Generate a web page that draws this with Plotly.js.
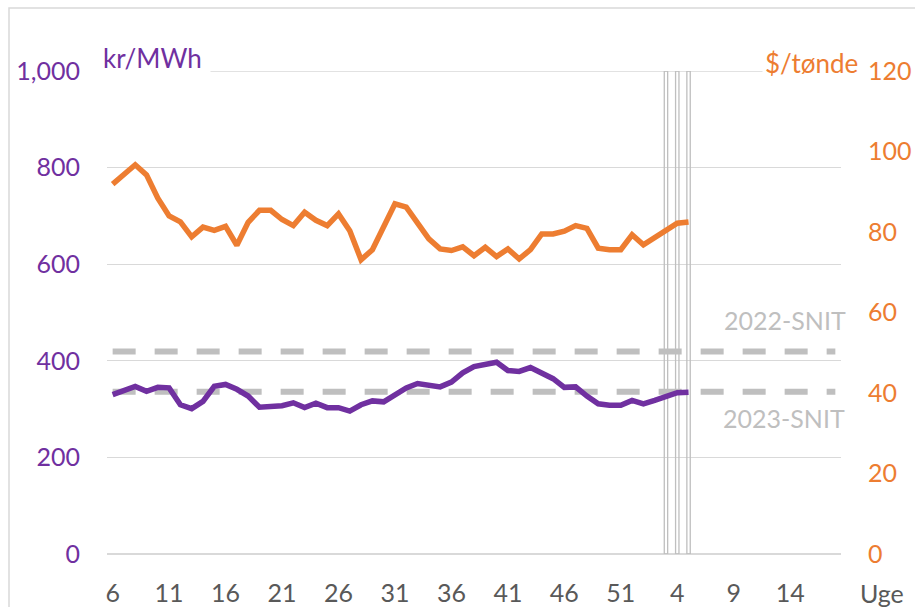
<!DOCTYPE html>
<html>
<head>
<meta charset="utf-8">
<script src="https://cdn.plot.ly/plotly-3.0.1.min.js"></script>
<style>
html,body{margin:0;padding:0;background:#fff;}
#chart{width:915px;height:607px;}
</style>
</head>
<body>
<div id="chart"></div>
<script>
// ---- data ----
const weeks2023 = [6,7,8,9,10,11,12,13,14,15,16,17,18,19,20,21,22,23,24,25,26,27,28,29,30,31,32,33,34,35,36,37,38,39,40,41,42,43,44,45,46,47,48,49,50,51,52];
const weeks2024 = [1,2,3,4,5,6,7,8,9,10,11,12,13,14,15,16,17,18];
const categories = weeks2023.map(w => '2023-' + w).concat(weeks2024.map(w => '2024-' + w));
const weekLabels = weeks2023.concat(weeks2024);

// Power price, kr/MWh (left axis)
const powerPrice = [330, 340, 347, 337, 345, 344, 309, 301, 316, 347, 351, 341, 327, 304, 305, 307, 313, 303, 312, 303,
                    303, 296, 309, 317, 315, 330, 344, 353, 349, 346, 356, 375, 388, 392, 397, 380, 378, 386, 373, 363,
                    345, 346, 327, 311, 308, 308, 318, 311, 318, 327, 334, 335];
// Oil price, $/tønde (right axis)
const oilPrice = [91.9, 94.5, 96.7, 94.2, 88.4, 84.0, 82.5, 78.8, 81.2, 80.4, 81.4, 76.7, 82.4, 85.4, 85.4, 83.1, 81.6, 84.9, 82.9, 81.6,
                  84.5, 80.3, 73.1, 75.6, 81.2, 87.0, 86.2, 82.1, 78.3, 75.8, 75.4, 76.3, 74.1, 76.2, 73.9, 75.8, 73.3, 75.6, 79.5, 79.5,
                  80.2, 81.6, 80.9, 76.0, 75.6, 75.6, 79.3, 76.8, 78.5, 80.2, 82.2, 82.5];
// Averages (kr/MWh)
const snit2022 = 419;
const snit2023 = 336;
// Highlighted weeks (vertical markers)
const highlightWeeks = ['2024-3', '2024-4', '2024-5'];
const highlightHeight = [1000, 1000, 1000];

const leftTicks = [0, 200, 400, 600, 800, 1000];
const rightTicks = [0, 20, 40, 60, 80, 100, 120];

// ---- style ----
const FONT = 'Lato, "Open Sans", sans-serif';
const PURPLE = '#7030A0';
const ORANGE = '#ED7D31';
const GRID = '#d9d9d9';
const SNITC = '#bfbfbf';

const tickIdx = categories.map((c, i) => i).filter(i => i % 5 === 0);

const traces = [
  {
    type: 'bar', x: highlightWeeks, y: highlightHeight, width: 0.3,
    marker: {color: 'rgba(255,255,255,0)', line: {color: SNITC, width: 1.3}},
    hoverinfo: 'skip', showlegend: false
  },
  {
    type: 'scatter', mode: 'lines', x: categories, y: categories.map(() => snit2022),
    line: {color: SNITC, width: 6, dash: '23px,19px'}, hoverinfo: 'skip', showlegend: false
  },
  {
    type: 'scatter', mode: 'lines', x: categories, y: categories.map(() => snit2023),
    line: {color: SNITC, width: 6, dash: '23px,19px'}, hoverinfo: 'skip', showlegend: false
  },
  {
    type: 'scatter', mode: 'lines', name: 'kr/MWh',
    x: categories.slice(0, powerPrice.length), y: powerPrice,
    line: {color: PURPLE, width: 5.5, shape: 'linear'}, showlegend: false
  },
  {
    type: 'scatter', mode: 'lines', name: '$/tønde', yaxis: 'y2',
    x: categories.slice(0, oilPrice.length), y: oilPrice,
    line: {color: ORANGE, width: 5.5}, showlegend: false
  }
];

// plot area in px: x 107..841, y 71..554
const L = 107, R = 841, T = 71, B = 554;
const px = v => (v - L) / (R - L);
const py = v => (B - v) / (B - T);

const layout = {
  width: 915, height: 607,
  margin: {l: L, r: 915 - R, t: T, b: 607 - B, pad: 0},
  paper_bgcolor: '#ffffff', plot_bgcolor: '#ffffff',
  font: {family: FONT, size: 25},
  showlegend: false,
  bargap: 0,
  xaxis: {
    type: 'category', categoryorder: 'array', categoryarray: categories,
    range: [-0.5, categories.length - 0.5],
    tickvals: tickIdx.map(i => categories[i]),
    ticktext: tickIdx.map(i => String(weekLabels[i])),
    showgrid: false, zeroline: false, showline: false, ticks: '',
    tickfont: {family: FONT, size: 25, color: '#595959'},
    ticklabelstandoff: 22, fixedrange: true
  },
  yaxis: {
    range: [0, 1000], tickvals: leftTicks, tickformat: ',',
    showgrid: true, gridcolor: GRID, gridwidth: 1.4,
    zeroline: true, zerolinecolor: GRID, zerolinewidth: 1.4,
    showline: false, ticks: '',
    tickfont: {family: FONT, size: 25, color: PURPLE},
    ticklabelstandoff: 26, fixedrange: true
  },
  yaxis2: {
    overlaying: 'y', side: 'right', range: [0, 120], tickvals: rightTicks,
    showgrid: false, zeroline: false, showline: false, ticks: '',
    tickfont: {family: FONT, size: 25, color: ORANGE},
    ticklabelstandoff: 26, fixedrange: true
  },
  shapes: [
    {type: 'rect', xref: 'paper', yref: 'paper', x0: px(9), x1: px(940), y0: py(8), y1: py(640),
     line: {color: GRID, width: 1.5}, fillcolor: 'rgba(0,0,0,0)', layer: 'below'},
    // top gridline at the axis maximum (Plotly drops the edge gridline)
    {type: 'line', xref: 'paper', yref: 'y', x0: 0, x1: 1,
     y0: leftTicks[leftTicks.length - 1], y1: leftTicks[leftTicks.length - 1],
     line: {color: GRID, width: 1.4}, layer: 'below'}
  ],
  annotations: [
    {text: 'kr/MWh', xref: 'paper', yref: 'paper', x: px(94), y: py(58), xanchor: 'left', yanchor: 'middle',
     showarrow: false, bgcolor: '#ffffff', borderpad: 8, font: {family: FONT, size: 26, color: PURPLE}},
    {text: '$/tønde', xref: 'paper', yref: 'paper', x: px(861), y: py(63), xanchor: 'right', yanchor: 'middle',
     showarrow: false, bgcolor: '#ffffff', borderpad: 2, font: {family: FONT, size: 26, color: ORANGE}},
    {text: '2022-SNIT', xref: 'paper', yref: 'y', x: px(848), y: snit2022, yshift: 32, xanchor: 'right', yanchor: 'middle',
     showarrow: false, font: {family: FONT, size: 25, color: SNITC}},
    {text: '2023-SNIT', xref: 'paper', yref: 'y', x: px(847), y: snit2023, yshift: -26, xanchor: 'right', yanchor: 'middle',
     showarrow: false, font: {family: FONT, size: 25, color: SNITC}},
    {text: 'Uge', xref: 'paper', yref: 'paper', x: px(882), y: py(593), xanchor: 'center', yanchor: 'middle',
     showarrow: false, font: {family: FONT, size: 25, color: '#595959'}}
  ]
};

Plotly.newPlot('chart', traces, layout, {staticPlot: true, displayModeBar: false});
</script>
</body>
</html>
